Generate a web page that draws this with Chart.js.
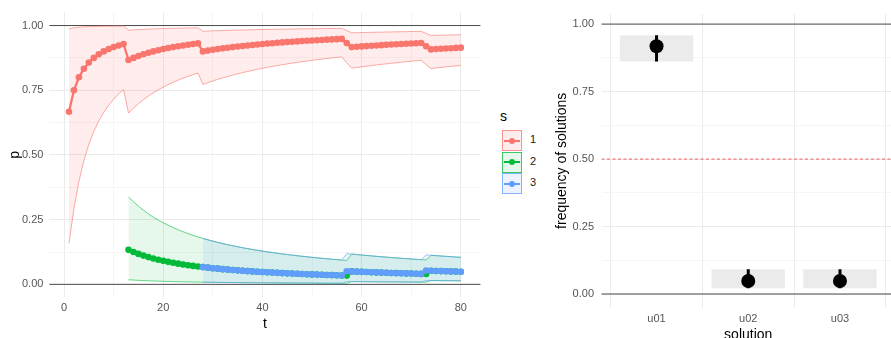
<!DOCTYPE html>
<html>
<head>
<meta charset="utf-8">
<script src="https://cdn.jsdelivr.net/npm/chart.js@4.4.1/dist/chart.umd.min.js"></script>
<style>
  html, body { margin: 0; padding: 0; width: 891px; height: 338px; overflow: hidden; background: #fff; }
  body { position: relative; font-family: "Liberation Sans", Arial, sans-serif; }
  #trend { position: absolute; left: 0; top: 0; }
  #freq { position: absolute; left: 540px; top: 0; }
  .lg-title { position: absolute; left: 500px; top: 108px; font-size: 14px; color: #000; }
  .lg-key { position: absolute; left: 502px; width: 18px; height: 19px; border: 1px solid; }
  .lg-key .ln { position: absolute; left: 1px; right: 1px; top: 8.5px; height: 2px; }
  .lg-key .dot { position: absolute; left: 6px; top: 6.5px; width: 6px; height: 6px; border-radius: 50%; }
  .lg-lab { position: absolute; left: 530px; font-size: 11px; color: #1a1a1a; }
</style>
</head>
<body>
<canvas id="trend" width="490" height="338"></canvas>
<canvas id="freq" width="362" height="352"></canvas>
<div id="legend"></div>
<script>
// ---- time axis ----
const tAll = [1,2,3,4,5,6,7,8,9,10,11,12,13,14,15,16,17,18,19,20,21,22,23,24,25,26,27,28,29,30,
  31,32,33,34,35,36,37,38,39,40,41,42,43,44,45,46,47,48,49,50,51,52,53,54,55,56,57,58,59,60,
  61,62,63,64,65,66,67,68,69,70,71,72,73,74,75,76,77,78,79,80];
const tS2 = tAll.slice(12);   // s = 2 appears at t = 13
const tS3 = tAll.slice(27);   // s = 3 appears at t = 28

// ---- s = 1 ----
const p1 = [.6667,.7500,.8000,.8333,.8571,.8750,.8889,.9000,.9091,.9167,.9231,.9286,
  .8667,.8750,.8824,.8889,.8947,.9000,.9048,.9091,.9130,.9167,.9200,.9231,.9259,.9286,.9310,
  .9000,.9032,.9063,.9091,.9118,.9143,.9167,.9189,.9211,.9231,.9250,.9268,.9286,.9302,.9318,
  .9333,.9348,.9362,.9375,.9388,.9400,.9412,.9423,.9434,.9444,.9455,.9464,.9474,.9483,
  .9322,
  .9167,.9180,.9194,.9206,.9219,.9231,.9242,.9254,.9265,.9275,.9286,.9296,.9306,.9315,.9324,
  .9200,
  .9079,.9091,.9103,.9114,.9125,.9136,.9146];
const p1Upper = [.9874,.9916,.9937,.9950,.9958,.9964,.9968,.9972,.9975,.9977,.9979,.9981,
  .9822,.9834,.9845,.9854,.9863,.9870,.9877,.9883,.9888,.9893,.9897,.9902,.9905,.9909,.9912,
  .9781,.9789,.9796,.9802,.9809,.9814,.9820,.9825,.9830,.9834,.9839,.9843,.9847,.9850,.9854,
  .9857,.9860,.9863,.9866,.9869,.9872,.9875,.9877,.9879,.9882,.9884,.9886,.9888,.9890,
  .9809,
  .9719,.9724,.9729,.9733,.9737,.9742,.9746,.9750,.9753,.9757,.9761,.9764,.9767,.9771,.9774,
  .9697,
  .9617,.9622,.9627,.9632,.9636,.9641,.9646];
const p1Lower = [.1581,.2924,.3976,.4782,.5407,.5906,.6306,.6637,.6915,.7151,.7356,.7529,
  .6619,.6810,.6980,.7134,.7273,.7400,.7515,.7620,.7717,.7807,.7889,.7966,.8037,.8104,.8166,
  .7726,.7795,.7860,.7921,.7979,.8034,.8086,.8135,.8182,.8226,.8269,.8309,.8348,.8384,.8420,
  .8453,.8486,.8517,.8547,.8575,.8603,.8629,.8655,.8679,.8703,.8726,.8748,.8769,.8790,
  .8563,
  .8355,.8381,.8406,.8431,.8454,.8477,.8500,.8521,.8542,.8563,.8583,.8602,.8621,.8639,.8657,
  .8494,
  .8341,.8362,.8382,.8402,.8421,.8440,.8458];

// ---- s = 2 (t = 13..80) ----
const p2 = [.1333,.1250,.1176,.1111,.1053,.1000,.0952,.0909,.0870,.0833,.0800,.0769,.0741,.0714,.0690,
  .0667,.0645,.0625,.0606,.0588,.0571,.0556,.0541,.0526,.0513,.0500,.0488,.0476,.0465,.0455,
  .0444,.0435,.0426,.0417,.0408,.0400,.0392,.0385,.0377,.0370,.0364,.0357,.0351,.0345,.0339,
  .0500,.0492,.0484,.0476,.0469,.0462,.0455,.0448,.0441,.0435,.0429,.0423,.0417,.0411,.0405,.0400,
  .0526,.0519,.0513,.0506,.0500,.0494,.0488];
const p2Upper = [.3381,.3190,.3020,.2866,.2727,.2600,.2485,.2380,.2283,.2193,.2111,.2034,.1963,.1896,.1834,
  .1776,.1721,.1670,.1621,.1575,.1532,.1491,.1453,.1416,.1381,.1347,.1315,.1285,.1256,.1229,
  .1202,.1177,.1152,.1129,.1107,.1085,.1065,.1045,.1025,.1007,.0989,.0972,.0955,.0939,.0923,
  .1171,.1152,.1134,.1117,.1100,.1083,.1067,.1052,.1037,.1022,.1008,.0994,.0981,.0968,.0955,.0942,
  .1124,.1110,.1096,.1083,.1070,.1057,.1044];
const p2Lower = [.0178,.0166,.0155,.0146,.0137,.0130,.0123,.0118,.0112,.0107,.0103,.0098,.0095,.0091,.0088,
  .0085,.0082,.0079,.0077,.0074,.0072,.0070,.0068,.0066,.0064,.0063,.0061,.0060,.0058,.0057,
  .0056,.0054,.0053,.0052,.0051,.0050,.0049,.0048,.0047,.0046,.0045,.0044,.0044,.0043,.0042,
  .0106,.0104,.0103,.0101,.0099,.0098,.0096,.0095,.0093,.0092,.0091,.0089,.0088,.0087,.0086,.0084,
  .0147,.0145,.0143,.0142,.0140,.0138,.0136];

// ---- s = 3 (t = 28..80) ----
const p3 = [.0667,.0645,.0625,.0606,.0588,.0571,.0556,.0541,.0526,.0513,.0500,.0488,.0476,.0465,.0455,
  .0444,.0435,.0426,.0417,.0408,.0400,.0392,.0385,.0377,.0370,.0364,.0357,.0351,.0345,
  .0508,.0500,.0492,.0484,.0476,.0469,.0462,.0455,.0448,.0441,.0435,.0429,.0423,.0417,.0411,.0405,
  .0533,.0526,.0519,.0513,.0506,.0500,.0494,.0488];
const p3Upper = [.1776,.1721,.1670,.1621,.1575,.1532,.1491,.1453,.1416,.1381,.1347,.1315,.1285,.1256,.1229,
  .1202,.1177,.1152,.1129,.1107,.1085,.1065,.1045,.1025,.1007,.0989,.0972,.0955,.0939,
  .1190,.1171,.1152,.1134,.1117,.1100,.1083,.1067,.1052,.1037,.1022,.1008,.0994,.0981,.0968,.0955,
  .1139,.1124,.1110,.1096,.1083,.1070,.1057,.1044];
const p3Lower = [.0085,.0082,.0079,.0077,.0074,.0072,.0070,.0068,.0066,.0064,.0063,.0061,.0060,.0058,.0057,
  .0056,.0054,.0053,.0052,.0051,.0050,.0049,.0048,.0047,.0046,.0045,.0044,.0044,.0043,
  .0108,.0106,.0104,.0103,.0101,.0099,.0098,.0096,.0095,.0093,.0092,.0091,.0089,.0088,.0087,.0086,
  .0149,.0147,.0145,.0143,.0142,.0140,.0138,.0136];

// ---- solution frequencies ----
const solutions = ['u01', 'u02', 'u03'];
const freqMean = [0.918, 0.048, 0.048];
const freqLow  = [0.861, 0.021, 0.021];
const freqHigh = [0.959, 0.092, 0.092];

// ---- ticks and reference lines ----
const tTicks = [0, 20, 40, 60, 80];
const pTicks = [0, 0.25, 0.5, 0.75, 1];
const refLevels = [0, 1];
const halfLevel = 0.5;
const seriesNames = ['1', '2', '3'];

const COLORS = ['#F8766D', '#00BA38', '#619CFF'];
const RIBBON_FILL = ['rgba(248,118,109,0.13)', 'rgba(0,186,56,0.10)', 'rgba(97,156,255,0.12)'];
const RIBBON_EDGE = ['rgba(248,118,109,0.75)', 'rgba(0,186,56,0.75)', 'rgba(97,156,255,0.75)'];

Chart.defaults.font.family = '"Liberation Sans", Arial, sans-serif';

const pts = (xs, ys) => xs.map((x, i) => ({ x: x, y: ys[i] }));

// major ticks plus a minor line halfway between consecutive majors
function withMinors(majors) {
  const out = [];
  majors.forEach((v, i) => {
    out.push(v);
    if (i < majors.length - 1) out.push((v + majors[i + 1]) / 2);
  });
  return out;
}
const isIn = (arr, v) => arr.some(m => Math.abs(m - v) < 1e-9);

const refLinePlugin = {
  id: 'refLines',
  beforeDatasetsDraw(chart, args, opts) {
    const ys = chart.scales.y, a = chart.chartArea, ctx = chart.ctx;
    ctx.save();
    (opts.lines || []).forEach(l => {
      const py = ys.getPixelForValue(l.value);
      ctx.beginPath();
      ctx.setLineDash(l.dash || []);
      ctx.strokeStyle = l.color;
      ctx.lineWidth = l.width;
      ctx.moveTo(a.left, py);
      ctx.lineTo(a.right, py);
      ctx.stroke();
    });
    ctx.restore();
  }
};

const tickFont = { size: 11 };
const tickColor = '#555555';
const titleFont = { size: 14 };

function pAxis(widthPx, labelPad, titleText, titlePad, min, max) {
  return {
    type: 'linear', min: min, max: max,
    afterBuildTicks: s => { s.ticks = withMinors(pTicks).map(v => ({ value: v })); },
    afterFit: s => { s.width = widthPx; },
    ticks: {
      autoSkip: false, padding: labelPad, font: tickFont, color: tickColor,
      callback: v => isIn(pTicks, v) ? v.toFixed(2) : ''
    },
    grid: {
      drawTicks: false, lineWidth: 1,
      color: c => isIn(pTicks, c.tick.value) ? '#EBEBEB' : '#F5F5F5'
    },
    border: { display: false },
    title: { display: true, text: titleText, font: titleFont, color: '#000', padding: { top: titlePad, bottom: 0 } }
  };
}

// ---------------- left: p over t ----------------
function ribbon(idx, xs, up, lo, order) {
  return [
    { type: 'line', data: pts(xs, up), borderColor: RIBBON_EDGE[idx], borderWidth: 0.8,
      backgroundColor: RIBBON_FILL[idx], fill: '+1', pointRadius: 0, tension: 0, order: order },
    { type: 'line', data: pts(xs, lo), borderColor: RIBBON_EDGE[idx], borderWidth: 0.8,
      backgroundColor: RIBBON_FILL[idx], fill: false, pointRadius: 0, tension: 0, order: order }
  ];
}
function meanLine(idx, xs, ys, order) {
  return { type: 'line', label: seriesNames[idx], data: pts(xs, ys), borderColor: COLORS[idx], borderWidth: 2.3,
    pointRadius: 3.3, pointBorderWidth: 0, pointBackgroundColor: COLORS[idx], fill: false, tension: 0, order: order };
}

new Chart(document.getElementById('trend'), {
  type: 'line',
  data: {
    datasets: [
      meanLine(2, tS3, p3, 0),
      meanLine(1, tS2, p2, 1),
      meanLine(0, tAll, p1, 2),
      ...ribbon(2, tS3, p3Upper, p3Lower, 3),
      ...ribbon(1, tS2, p2Upper, p2Lower, 4),
      ...ribbon(0, tAll, p1Upper, p1Lower, 5)
    ]
  },
  options: {
    responsive: false, animation: false, devicePixelRatio: 1, events: [],
    layout: { padding: { left: 0, top: 4.7, right: 9.6, bottom: 0 } },
    plugins: {
      legend: { display: false }, tooltip: { enabled: false },
      refLines: { lines: refLevels.map(v => ({ value: v, color: '#4a4a4a', width: 1 })) }
    },
    scales: {
      x: {
        type: 'linear', min: -2.95, max: 83.95,
        afterBuildTicks: s => { s.ticks = withMinors(tTicks).map(v => ({ value: v })); },
        afterFit: s => { s.height = 40.7; },
        ticks: { autoSkip: false, maxRotation: 0, padding: 4.4, font: tickFont, color: tickColor,
          callback: v => isIn(tTicks, v) ? String(v) : '' },
        grid: { drawTicks: false, lineWidth: 1, color: c => isIn(tTicks, c.tick.value) ? '#EBEBEB' : '#F5F5F5' },
        border: { display: false },
        title: { display: true, text: 't', font: titleFont, color: '#000', padding: { top: 0, bottom: 5.3 } }
      },
      y: pAxis(49.4, 6, 'p', 6.6, -0.05, 1.05)
    }
  },
  plugins: [refLinePlugin]
});

// ---------------- legend for s ----------------
(function buildLegend() {
  const host = document.getElementById('legend');
  const title = document.createElement('div');
  title.className = 'lg-title';
  title.textContent = 's';
  host.appendChild(title);
  const rowTop = [130, 151.7, 173.4];
  seriesNames.forEach((name, i) => {
    const key = document.createElement('div');
    key.className = 'lg-key';
    key.style.top = rowTop[i] + 'px';
    key.style.borderColor = RIBBON_EDGE[i];
    key.style.background = RIBBON_FILL[i];
    const ln = document.createElement('div');
    ln.className = 'ln'; ln.style.background = COLORS[i];
    const dot = document.createElement('div');
    dot.className = 'dot'; dot.style.background = COLORS[i];
    key.appendChild(ln); key.appendChild(dot);
    host.appendChild(key);
    const lab = document.createElement('div');
    lab.className = 'lg-lab';
    lab.style.top = (rowTop[i] + 3) + 'px';
    lab.textContent = name;
    host.appendChild(lab);
  });
})();

// ---------------- right: frequency of solutions ----------------
const solX = solutions.map((s, i) => i + 1);
const errorBars = solX.map((x, i) => ({
  type: 'line', data: [{ x: x, y: freqLow[i] }, { x: x, y: freqHigh[i] }],
  borderColor: '#000', borderWidth: 3, pointRadius: 0, fill: false, order: 1
}));

new Chart(document.getElementById('freq'), {
  type: 'scatter',
  data: {
    datasets: [
      { type: 'scatter', data: pts(solX, freqMean), pointRadius: 7, pointBorderWidth: 0,
        pointBackgroundColor: '#000', backgroundColor: '#000', order: 0 },
      ...errorBars,
      { type: 'bar', data: solX.map((x, i) => ({ x: x, y: [freqLow[i], freqHigh[i]] })),
        backgroundColor: '#EBEBEB', borderWidth: 0, barPercentage: 0.8, categoryPercentage: 1, order: 2 }
    ]
  },
  options: {
    responsive: false, animation: false, devicePixelRatio: 1, events: [],
    layout: { padding: { left: 0, top: 13.3, right: 2.3, bottom: 0 } },
    plugins: {
      legend: { display: false }, tooltip: { enabled: false },
      refLines: { lines: [
        ...refLevels.map(v => ({ value: v, color: '#4a4a4a', width: 1 })),
        { value: halfLevel, color: 'rgba(245,80,80,0.75)', width: 1.2, dash: [3, 2.5] }
      ] }
    },
    scales: {
      x: {
        type: 'linear', min: 0.4, max: 3.6, offset: false,
        afterBuildTicks: s => { s.ticks = solX.map(v => ({ value: v })); },
        afterFit: s => { s.height = 44.5; },
        ticks: { autoSkip: false, maxRotation: 0, padding: 4.9, font: tickFont, color: tickColor,
          callback: v => solutions[Math.round(v) - 1] || '' },
        grid: { drawTicks: false, lineWidth: 1, color: '#EBEBEB' },
        border: { display: false },
        title: { display: true, text: 'solution', font: titleFont, color: '#000', padding: { top: 0, bottom: 8.6 } }
      },
      y: pAxis(61.5, 7.5, 'frequency of solutions', 14.1, -0.05, 1.037)
    }
  },
  plugins: [refLinePlugin]
});
</script>
</body>
</html>
